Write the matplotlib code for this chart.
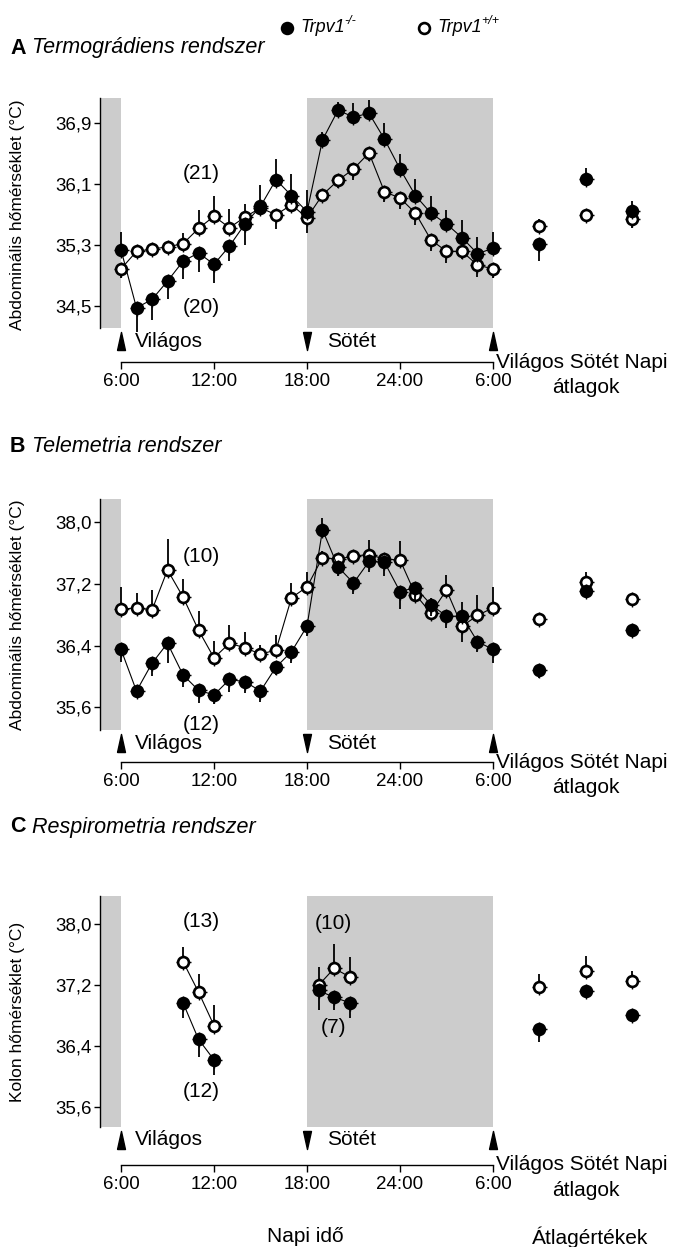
import matplotlib
matplotlib.use('Agg')
import numpy as np
import matplotlib.pyplot as plt

plt.rcParams['font.family'] = ['Liberation Sans', 'DejaVu Sans']
plt.rcParams['font.size'] = 12

# hourly time points, 6:00 .. next day 6:00
hours = list(range(6, 31))
# x positions of the three summary points (Világos, Sötét, Napi)
avg_pos = [33, 36, 39]

# A: thermogradient system (Trpv1-/- = ko, Trpv1+/+ = wt); error sign = direction of the bar
A_ko = [35.24, 34.48, 34.59, 34.83, 35.09, 35.20, 35.05, 35.29, 35.58, 35.81, 36.16, 35.95, 35.74,
        36.68, 37.07, 36.98, 37.03, 36.69, 36.30, 35.95, 35.72, 35.58, 35.40, 35.19, 35.26]
A_ko_err = [0.23, -0.32, -0.27, -0.23, -0.23, -0.25, -0.24, -0.2, -0.28, 0.28, 0.27, 0.29, 0.29,
            0.1, 0.11, 0.18, 0.18, 0.21, 0.2, 0.22, 0.22, 0.18, 0.23, 0.22, 0.22]
A_wt = [34.99, 35.22, 35.25, 35.28, 35.32, 35.52, 35.68, 35.53, 35.67, 35.79, 35.70, 35.83, 35.66,
        35.96, 36.15, 36.30, 36.51, 36.00, 35.92, 35.72, 35.37, 35.22, 35.22, 35.04, 34.99]
A_wt_err = [-0.12, -0.05, -0.05, -0.04, 0.14, 0.24, 0.26, 0.25, 0.17, 0.1, -0.19, -0.06, -0.2,
            -0.08, -0.1, -0.15, -0.1, -0.13, -0.14, -0.15, -0.15, -0.15, -0.1, -0.15, -0.12]
A_avg_ko = [35.32, 36.17, 35.75]
A_avg_ko_err = [-0.22, 0.14, 0.13]
A_avg_wt = [35.55, 35.70, 35.64]
A_avg_wt_err = [0.1, 0.04, -0.12]

# B: telemetry system
B_ko = [36.35, 35.81, 36.17, 36.43, 36.02, 35.82, 35.76, 35.96, 35.93, 35.81, 36.12, 36.32, 36.65,
        37.90, 37.42, 37.21, 37.49, 37.48, 37.10, 37.15, 36.93, 36.78, 36.78, 36.45, 36.35]
B_ko_err = [-0.16, -0.05, -0.17, -0.26, -0.16, -0.16, -0.12, -0.16, -0.15, -0.14, -0.1, -0.14, -0.13,
            0.16, -0.12, -0.14, -0.14, -0.18, -0.22, -0.17, -0.15, -0.15, 0.18, -0.13, -0.17]
B_wt = [36.87, 36.89, 36.86, 37.38, 37.03, 36.60, 36.24, 36.43, 36.37, 36.29, 36.34, 37.02, 37.16,
        37.54, 37.52, 37.56, 37.58, 37.52, 37.51, 37.06, 36.82, 37.12, 36.65, 36.79, 36.89]
B_wt_err = [0.29, 0.19, 0.26, 0.4, 0.23, 0.25, 0.22, 0.24, 0.2, 0.12, 0.2, 0.19, 0.19,
            0.08, 0.08, 0.08, 0.19, 0.08, 0.24, 0.1, 0.2, 0.19, -0.2, 0.27, 0.27]
B_avg_ko = [36.08, 37.11, 36.60]
B_avg_ko_err = [-0.1, 0.05, 0.05]
B_avg_wt = [36.74, 37.23, 37.00]
B_avg_wt_err = [0.08, 0.12, 0.05]

# C: respirometry system, light and dark phase measurements
C_light_hours = [10, 11, 12]
C_dark_hours = [18.75, 19.75, 20.75]
C_light_ko = [36.97, 36.49, 36.22]
C_light_ko_err = [-0.2, -0.23, -0.2]
C_light_wt = [37.51, 37.11, 36.67]
C_light_wt_err = [0.19, 0.24, 0.27]
C_dark_ko = [37.13, 37.04, 36.97]
C_dark_ko_err = [-0.25, -0.16, -0.2]
C_dark_wt = [37.20, 37.42, 37.31]
C_dark_wt_err = [0.24, 0.32, 0.26]
C_avg_ko = [36.63, 37.12, 36.81]
C_avg_ko_err = [-0.18, 0.04, 0.04]
C_avg_wt = [37.18, 37.38, 37.26]
C_avg_wt_err = [0.17, 0.2, 0.13]

xtick_pos = [6, 12, 18, 24, 30]
xtick_labels = ['6:00', '12:00', '18:00', '24:00', '6:00']

GRAY = '#cccccc'
BIG = 15
TICK = 13.5
W, H = 682, 1247
fig = plt.figure(figsize=(W / 100, H / 100), dpi=100)

XLIM = (4.645, 41.42)
up_tri = [(-0.44, -1), (0.44, -1), (0, 1), (-0.44, -1)]
down_tri = [(-0.44, 1), (0.44, 1), (0, -1), (-0.44, 1)]


def fx(px):
    return px / W


def fy(py):
    return 1 - py / H


def series(ax, x, y, err, filled, line=True):
    z = 6 if filled else 3
    err = np.array(err)
    lo = np.clip(-err, 0, None)
    hi = np.clip(err, 0, None)
    if line:
        ax.plot(x, y, color='k', lw=0.8, zorder=z)
    ax.errorbar(x, y, yerr=[lo, hi], fmt='none', ecolor='k', elinewidth=1.3, capsize=0, zorder=z)
    # small notches around the circles
    ax.plot(x, y, ls='none', marker='+', ms=10.8, mew=1.0, color='k', zorder=z + 1)
    ax.plot(x, y, ls='none', marker='o', ms=7.8, mew=1.9, mec='k',
            mfc='k' if filled else 'w', zorder=z + 2)


def panel(top_px, bottom_px, ylim, gray_lo, yticks, letter, title, title_y, ylabel, ylabel_y):
    ax = fig.add_axes([fx(100), fy(bottom_px), fx(670) - fx(100), (bottom_px - top_px) / H])
    ax.set_xlim(*XLIM)
    ax.set_ylim(*ylim)
    ax.patch.set_visible(False)
    for s in ['top', 'right']:
        ax.spines[s].set_visible(False)
    ax.spines['left'].set_bounds(gray_lo, ylim[1])
    ax.spines['bottom'].set_bounds(6, 30)
    ax.spines['left'].set_linewidth(1.0)
    ax.spines['bottom'].set_linewidth(1.0)
    ax.set_yticks(yticks)
    ax.set_yticklabels([f'{v:.1f}'.replace('.', ',') for v in yticks])
    ax.set_xticks(xtick_pos)
    ax.set_xticklabels(xtick_labels)
    ax.tick_params(axis='y', length=4, width=1, pad=2, labelsize=TICK)
    ax.tick_params(axis='x', length=5, width=1, pad=3, labelsize=TICK)

    # dark phases
    ax.fill_between([XLIM[0], 6], gray_lo, ylim[1], color=GRAY, lw=0, zorder=0)
    ax.fill_between([18, 30], gray_lo, ylim[1], color=GRAY, lw=0, zorder=0)

    # light/dark markers under the plot
    ya = gray_lo - 0.17
    ax.plot([6, 30], [ya, ya], ls='none', marker=up_tri, ms=13, color='k', clip_on=False)
    ax.plot([18], [ya], ls='none', marker=down_tri, ms=13, color='k', clip_on=False)
    ax.text(6.9, ya, 'Világos', ha='left', va='center', fontsize=BIG)
    ax.text(19.3, ya, 'Sötét', ha='left', va='center', fontsize=BIG)
    ax.annotate('Világos Sötét Napi', xy=(30, 0), xycoords=('data', 'axes fraction'),
                xytext=(2, 0), textcoords='offset points', ha='left', va='center',
                fontsize=BIG)
    ax.annotate('átlagok', xy=(36, 0), xycoords=('data', 'axes fraction'),
                xytext=(0, -18.5), textcoords='offset points', ha='center', va='center',
                fontsize=BIG)

    t = fig.text(fx(10), fy(title_y), letter, fontweight='bold', ha='left', va='center',
                 fontsize=BIG + 0.5)
    ax.annotate(' ' + title, xy=(1, 0), xycoords=t, ha='left', va='bottom', style='italic',
                fontsize=BIG + 0.5)
    fig.text(fx(18), fy(ylabel_y), ylabel, rotation=90, ha='center', va='center', fontsize=12.5)
    return ax


def count(ax, x, y, s):
    ax.text(x, y, s, ha='center', va='center', fontsize=BIG)


axA = panel(98, 362, (33.77, 37.23), 34.21, [34.5, 35.3, 36.1, 36.9], 'A',
            'Termográdiens rendszer', 48, 'Abdominális hőmérséklet (°C)', 215)
series(axA, hours, A_wt, A_wt_err, False)
series(axA, hours, A_ko, A_ko_err, True)
series(axA, avg_pos, A_avg_wt, A_avg_wt_err, False, line=False)
series(axA, avg_pos, A_avg_ko, A_avg_ko_err, True, line=False)
count(axA, 11.16, 36.24, '(21)')
count(axA, 11.16, 34.49, '(20)')

axB = panel(499, 762, (34.89, 38.30), 35.30, [35.6, 36.4, 37.2, 38.0], 'B',
            'Telemetria rendszer', 447, 'Abdominális hőmérséklet (°C)', 615)
series(axB, hours, B_wt, B_wt_err, False)
series(axB, hours, B_ko, B_ko_err, True)
series(axB, avg_pos, B_avg_wt, B_avg_wt_err, False, line=False)
series(axB, avg_pos, B_avg_ko, B_avg_ko_err, True, line=False)
count(axB, 11.16, 37.55, '(10)')
count(axB, 11.16, 35.37, '(12)')

axC = panel(896, 1165, (34.84, 38.37), 35.34, [35.6, 36.4, 37.2, 38.0], 'C',
            'Respirometria rendszer', 827, 'Kolon hőmérséklet (°C)', 1012)
series(axC, C_light_hours, C_light_wt, C_light_wt_err, False)
series(axC, C_dark_hours, C_dark_wt, C_dark_wt_err, False)
series(axC, C_light_hours, C_light_ko, C_light_ko_err, True)
series(axC, C_dark_hours, C_dark_ko, C_dark_ko_err, True)
series(axC, avg_pos, C_avg_wt, C_avg_wt_err, False, line=False)
series(axC, avg_pos, C_avg_ko, C_avg_ko_err, True, line=False)
count(axC, 11.16, 38.04, '(13)')
count(axC, 11.16, 35.80, '(12)')
count(axC, 19.68, 38.01, '(10)')
count(axC, 19.68, 36.64, '(7)')

# legend
leg = fig.add_axes([0, 0, 1, 1])
leg.set_xlim(0, W)
leg.set_ylim(H, 0)
leg.axis('off')
leg.plot([287], [28], ls='none', marker='o', ms=7.8, mew=1.9, mec='k', mfc='k')
leg.plot([424], [28], ls='none', marker='o', ms=7.8, mew=1.9, mec='k', mfc='w')
for x0, sup in [(300, '-/-'), (437, '+/+')]:
    t = leg.text(x0, 28, 'Trpv1', style='italic', ha='left', va='center', fontsize=13)
    leg.annotate(sup, xy=(1, 0.55), xycoords=t, ha='left', va='bottom', style='italic', fontsize=9)

fig.text(fx(305), fy(1237), 'Napi idő', ha='center', va='center', fontsize=BIG)
fig.text(fx(590), fy(1237), 'Átlagértékek', ha='center', va='center', fontsize=BIG)

fig.savefig('out.png', dpi=100)
